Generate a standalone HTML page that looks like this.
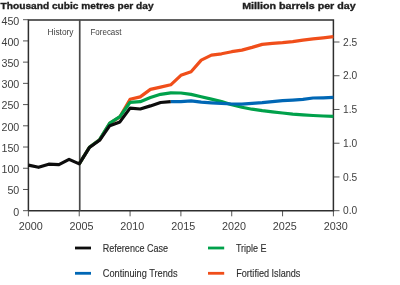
<!DOCTYPE html>
<html><head><meta charset="utf-8"><style>
html,body{margin:0;padding:0;background:#fff;}
svg{display:block;will-change:transform;}
.t{font-family:"Liberation Sans",sans-serif;font-size:10.2px;fill:#3e3e3e;}
.s{font-family:"Liberation Sans",sans-serif;font-size:9px;fill:#3e3e3e;}
.l{font-family:"Liberation Sans",sans-serif;font-size:10px;fill:#2e2e2e;stroke:#2e2e2e;stroke-width:0.12px;}
.h{font-family:"Liberation Sans",sans-serif;font-size:9.8px;font-weight:bold;fill:#1e1e1e;stroke:#1e1e1e;stroke-width:0.35px;}
</style></head><body>
<svg width="400" height="285" viewBox="0 0 400 285">
<line x1="23" y1="210.70" x2="28.4" y2="210.70" stroke="#555" stroke-width="1"/>
<text x="13.35" y="215.60" class="t" textLength="5.95" lengthAdjust="spacingAndGlyphs">0</text>
<line x1="23" y1="189.48" x2="28.4" y2="189.48" stroke="#555" stroke-width="1"/>
<text x="7.40" y="194.38" class="t" textLength="11.9" lengthAdjust="spacingAndGlyphs">50</text>
<line x1="23" y1="168.26" x2="28.4" y2="168.26" stroke="#555" stroke-width="1"/>
<text x="1.45" y="173.16" class="t" textLength="17.85" lengthAdjust="spacingAndGlyphs">100</text>
<line x1="23" y1="147.03" x2="28.4" y2="147.03" stroke="#555" stroke-width="1"/>
<text x="1.45" y="151.93" class="t" textLength="17.85" lengthAdjust="spacingAndGlyphs">150</text>
<line x1="23" y1="125.81" x2="28.4" y2="125.81" stroke="#555" stroke-width="1"/>
<text x="1.45" y="130.71" class="t" textLength="17.85" lengthAdjust="spacingAndGlyphs">200</text>
<line x1="23" y1="104.59" x2="28.4" y2="104.59" stroke="#555" stroke-width="1"/>
<text x="1.45" y="109.49" class="t" textLength="17.85" lengthAdjust="spacingAndGlyphs">250</text>
<line x1="23" y1="83.37" x2="28.4" y2="83.37" stroke="#555" stroke-width="1"/>
<text x="1.45" y="88.27" class="t" textLength="17.85" lengthAdjust="spacingAndGlyphs">300</text>
<line x1="23" y1="62.14" x2="28.4" y2="62.14" stroke="#555" stroke-width="1"/>
<text x="1.45" y="67.04" class="t" textLength="17.85" lengthAdjust="spacingAndGlyphs">350</text>
<line x1="23" y1="40.92" x2="28.4" y2="40.92" stroke="#555" stroke-width="1"/>
<text x="1.45" y="45.82" class="t" textLength="17.85" lengthAdjust="spacingAndGlyphs">400</text>
<line x1="23" y1="19.70" x2="28.4" y2="19.70" stroke="#555" stroke-width="1"/>
<text x="1.45" y="24.60" class="t" textLength="17.85" lengthAdjust="spacingAndGlyphs">450</text>
<line x1="333.4" y1="210.70" x2="339.5" y2="210.70" stroke="#555" stroke-width="1"/>
<text x="343.10" y="214.30" class="t" textLength="14.2" lengthAdjust="spacingAndGlyphs">0.0</text>
<line x1="333.4" y1="176.96" x2="339.5" y2="176.96" stroke="#555" stroke-width="1"/>
<text x="343.10" y="180.56" class="t" textLength="14.2" lengthAdjust="spacingAndGlyphs">0.5</text>
<line x1="333.4" y1="143.22" x2="339.5" y2="143.22" stroke="#555" stroke-width="1"/>
<text x="343.10" y="146.82" class="t" textLength="14.2" lengthAdjust="spacingAndGlyphs">1.0</text>
<line x1="333.4" y1="109.48" x2="339.5" y2="109.48" stroke="#555" stroke-width="1"/>
<text x="343.10" y="113.08" class="t" textLength="14.2" lengthAdjust="spacingAndGlyphs">1.5</text>
<line x1="333.4" y1="75.74" x2="339.5" y2="75.74" stroke="#555" stroke-width="1"/>
<text x="343.10" y="79.34" class="t" textLength="14.2" lengthAdjust="spacingAndGlyphs">2.0</text>
<line x1="333.4" y1="42.00" x2="339.5" y2="42.00" stroke="#555" stroke-width="1"/>
<text x="343.10" y="45.60" class="t" textLength="14.2" lengthAdjust="spacingAndGlyphs">2.5</text>
<line x1="28.40" y1="210.7" x2="28.40" y2="216.3" stroke="#555" stroke-width="1"/>
<text x="18.70" y="229.60" class="t" textLength="24" lengthAdjust="spacingAndGlyphs">2000</text>
<line x1="79.23" y1="210.7" x2="79.23" y2="216.3" stroke="#555" stroke-width="1"/>
<text x="69.53" y="229.60" class="t" textLength="24" lengthAdjust="spacingAndGlyphs">2005</text>
<line x1="130.07" y1="210.7" x2="130.07" y2="216.3" stroke="#555" stroke-width="1"/>
<text x="120.37" y="229.60" class="t" textLength="24" lengthAdjust="spacingAndGlyphs">2010</text>
<line x1="180.90" y1="210.7" x2="180.90" y2="216.3" stroke="#555" stroke-width="1"/>
<text x="171.20" y="229.60" class="t" textLength="24" lengthAdjust="spacingAndGlyphs">2015</text>
<line x1="231.73" y1="210.7" x2="231.73" y2="216.3" stroke="#555" stroke-width="1"/>
<text x="222.03" y="229.60" class="t" textLength="24" lengthAdjust="spacingAndGlyphs">2020</text>
<line x1="282.57" y1="210.7" x2="282.57" y2="216.3" stroke="#555" stroke-width="1"/>
<text x="272.87" y="229.60" class="t" textLength="24" lengthAdjust="spacingAndGlyphs">2025</text>
<line x1="333.40" y1="210.7" x2="333.40" y2="216.3" stroke="#555" stroke-width="1"/>
<text x="323.70" y="229.60" class="t" textLength="24" lengthAdjust="spacingAndGlyphs">2030</text>
<path d="M28.4,210.7V19.9H333.4V210.7H28.4" fill="none" stroke="#2e2e2e" stroke-width="1.5"/>
<line x1="79.73" y1="19.9" x2="79.73" y2="210.7" stroke="#4a4a4a" stroke-width="1.7"/>
<polyline points="79.23,163.90 89.40,147.30 99.57,139.80 109.73,123.40 119.90,116.80 130.07,99.30 140.23,96.90 150.40,89.40 160.57,87.10 170.73,84.80 180.90,75.30 191.07,71.70 201.23,60.10 211.40,55.10 221.57,53.80 231.73,51.70 241.90,50.10 252.07,47.40 262.23,44.40 272.40,43.30 282.57,42.60 292.73,41.60 302.90,40.10 313.07,38.90 323.23,37.80 333.40,36.60" fill="none" stroke="#f04e1a" stroke-width="3.2" stroke-linejoin="round"/>
<polyline points="79.23,163.90 89.40,147.30 99.57,139.70 109.73,123.10 119.90,116.60 130.07,102.30 140.23,101.70 150.40,97.60 160.57,94.30 170.73,92.80 180.90,93.00 191.07,94.40 201.23,96.80 211.40,99.10 221.57,101.60 231.73,104.80 241.90,107.30 252.07,109.20 262.23,110.70 272.40,111.90 282.57,113.00 292.73,114.10 302.90,114.90 313.07,115.50 323.23,116.00 333.40,116.30" fill="none" stroke="#00a14b" stroke-width="3.2" stroke-linejoin="round"/>
<polyline points="170.73,101.70 180.90,101.60 191.07,100.90 201.23,102.10 211.40,102.80 221.57,103.40 231.73,104.00 241.90,104.20 252.07,103.40 262.23,102.70 272.40,101.60 282.57,100.70 292.73,100.10 302.90,99.40 313.07,98.00 323.23,97.80 333.40,97.40" fill="none" stroke="#0067b5" stroke-width="3.2" stroke-linejoin="round"/>
<polyline points="28.40,165.10 38.57,167.30 48.73,164.20 58.90,164.60 69.07,159.40 79.23,163.90 89.40,147.50 99.57,140.30 109.73,125.70 119.90,121.90 130.07,108.10 140.23,109.00 150.40,105.90 160.57,102.50 170.73,101.70" fill="none" stroke="#0d0d0d" stroke-width="3.2" stroke-linejoin="round"/>
<text x="47.50" y="35.20" class="s" textLength="26" lengthAdjust="spacingAndGlyphs">History</text>
<text x="90.50" y="35.20" class="s" textLength="31" lengthAdjust="spacingAndGlyphs">Forecast</text>
<text x="0.60" y="9.40" class="h" textLength="153" lengthAdjust="spacingAndGlyphs">Thousand cubic metres per day</text>
<text x="242.20" y="9.40" class="h" textLength="113.5" lengthAdjust="spacingAndGlyphs">Million barrels per day</text>
<line x1="75" y1="248" x2="91" y2="248" stroke="#0d0d0d" stroke-width="2.8"/>
<text x="102.80" y="251.50" class="l" textLength="65.2" lengthAdjust="spacingAndGlyphs">Reference Case</text>
<line x1="75" y1="273.3" x2="91" y2="273.3" stroke="#0067b5" stroke-width="2.8"/>
<text x="102.80" y="276.80" class="l" textLength="74.8" lengthAdjust="spacingAndGlyphs">Continuing Trends</text>
<line x1="208" y1="248" x2="224.2" y2="248" stroke="#00a14b" stroke-width="2.8"/>
<text x="235.90" y="251.50" class="l" textLength="30.6" lengthAdjust="spacingAndGlyphs">Triple E</text>
<line x1="208" y1="273.3" x2="224.2" y2="273.3" stroke="#f04e1a" stroke-width="2.8"/>
<text x="236.20" y="276.80" class="l" textLength="64.2" lengthAdjust="spacingAndGlyphs">Fortified Islands</text>
</svg>
</body></html>
